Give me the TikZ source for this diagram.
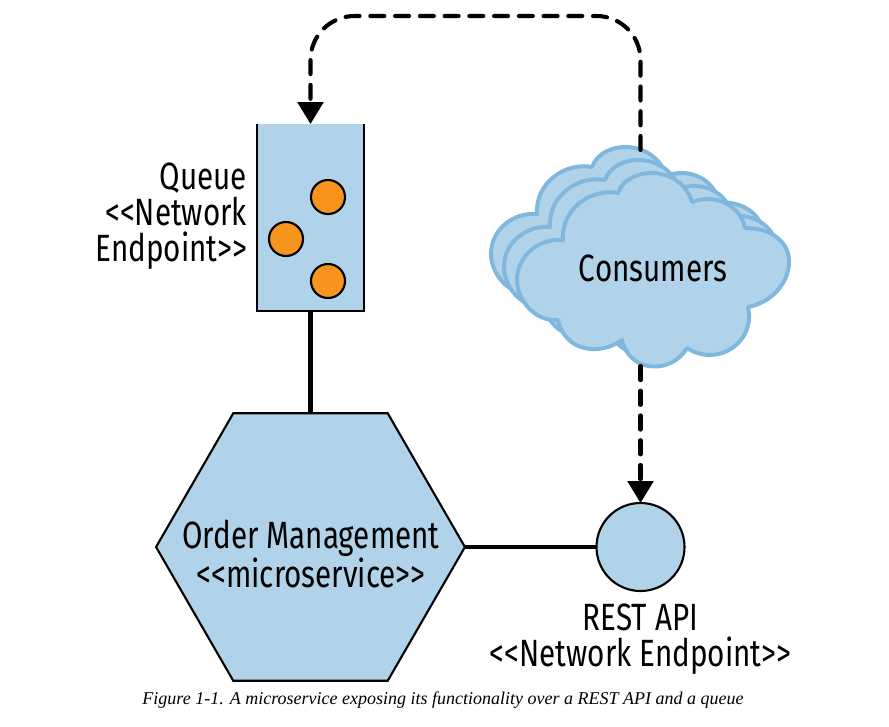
\documentclass[tikz,border=0pt]{standalone}
\usepackage{fontspec}
\usetikzlibrary{positioning}
\usetikzlibrary{shapes.geometric}
\usetikzlibrary{arrows.meta}
\newfontfamily\figfont[FakeStretch=0.78]{Fira Sans}
\newfontfamily\capfont[ItalicFont=Liberation Serif Italic]{Liberation Serif}
\definecolor{paleblue}{HTML}{B0D3EA}
\definecolor{cloudedge}{HTML}{7FB7DE}
\definecolor{ballorange}{HTML}{F7941E}

% one cloud outline, drawn from its left shoulder round to the right
\newcommand{\cloudpath}{
  (563,240)
  .. controls (561,208) and (592,188) .. (618,193)
  .. controls (628,165) and (681,165) .. (692,202)
  .. controls (715,193) and (740,205) .. (745,228)
  .. controls (775,228) and (790,245) .. (789,263)
  .. controls (788,285) and (770,303) .. (748,307)
  .. controls (756,342) and (718,368) .. (687,348)
  .. controls (672,374) and (630,374) .. (622,340)
  .. controls (600,356) and (565,352) .. (558,320)
  .. controls (535,322) and (517,300) .. (517,280)
  .. controls (517,255) and (540,238) .. (563,240)
  -- cycle
}

\begin{document}
\begin{tikzpicture}[
  x=0.025cm, y=-0.025cm,
  font=\figfont\fontsize{27}{25.6}\selectfont,
  link/.style={line width=2.9pt},
  flow/.style={line width=2.9pt, dash pattern=on 10pt off 7.6pt, line cap=round,
    -{Triangle[length=15.5pt, width=18pt]}},
  cloudy/.style={fill=paleblue, draw=cloudedge, line width=2.8pt, line join=round},
  ball/.style={circle, draw=black, line width=1.5pt, fill=ballorange, minimum size=0.85cm, inner sep=0pt},
  endpoint/.style={circle, draw=black, line width=1.5pt, fill=paleblue, minimum size=2.2cm, inner sep=0pt, outer sep=0pt},
  hexa/.style={regular polygon, regular polygon sides=6, draw=black,
    line width=1.5pt, fill=paleblue, minimum size=7.72cm, inner sep=0pt, outer sep=0pt},
  tube/.style={rectangle, fill=paleblue, minimum width=2.675cm, minimum height=4.675cm, inner sep=0pt, outer sep=0pt},
  label/.style={align=center}
]
\useasboundingbox (0,0) rectangle (889,726);

% Queue with its open top
\node[tube] (queue) at (310.5,217.5) {};
\draw[line width=1.5pt] (queue.north west) -- (queue.south west) -- (queue.south east) -- (queue.north east);
\node[ball] (item1) at (328,197) {};
\node[ball] (item2) at (286,239) {};
\node[ball] (item3) at (328,281) {};
\node[label, align=right, anchor=east] (queuetext) at (252,216) {Queue\\<{}<Network\\Endpoint>{}>};

% Microservice and REST endpoint
\node[hexa] (service) at (310.5,547) {};
\node[label] (servicetext) at (311,554) {Order Management\\<{}<microservice>{}>};
\node[endpoint] (rest) at (640.5,547) {};
\node[label] (resttext) at (640.5,639) {REST API\\<{}<Network Endpoint>{}>};

\draw[link] (queue.south) -- (service.north);
\draw[link] (service.east) -- (rest.west);

% Stack of three clouds
\foreach \shift in {-26,-13,0} {
  \draw[cloudy, xshift=\shift*0.025cm, yshift=-\shift*0.025cm] \cloudpath;
}
\node (consumers) at (653,268) {Consumers};

\coordinate (cloudtop) at (640.5,150);
\coordinate (cloudfoot) at (640.5,366);
\coordinate (loopline) at (480,16);

\draw[flow, rounded corners=1.1cm] (cloudtop) -- (cloudtop |- loopline) -- (queue.north |- loopline) -- (queue.north);
\draw[flow] (cloudfoot) -- (rest.north);

\node[font=\capfont\itshape\fontsize{12.8}{14}\selectfont] (caption) at (443,700) {Figure 1-1. A microservice exposing its functionality over a REST API and a queue};
\end{tikzpicture}
\end{document}
